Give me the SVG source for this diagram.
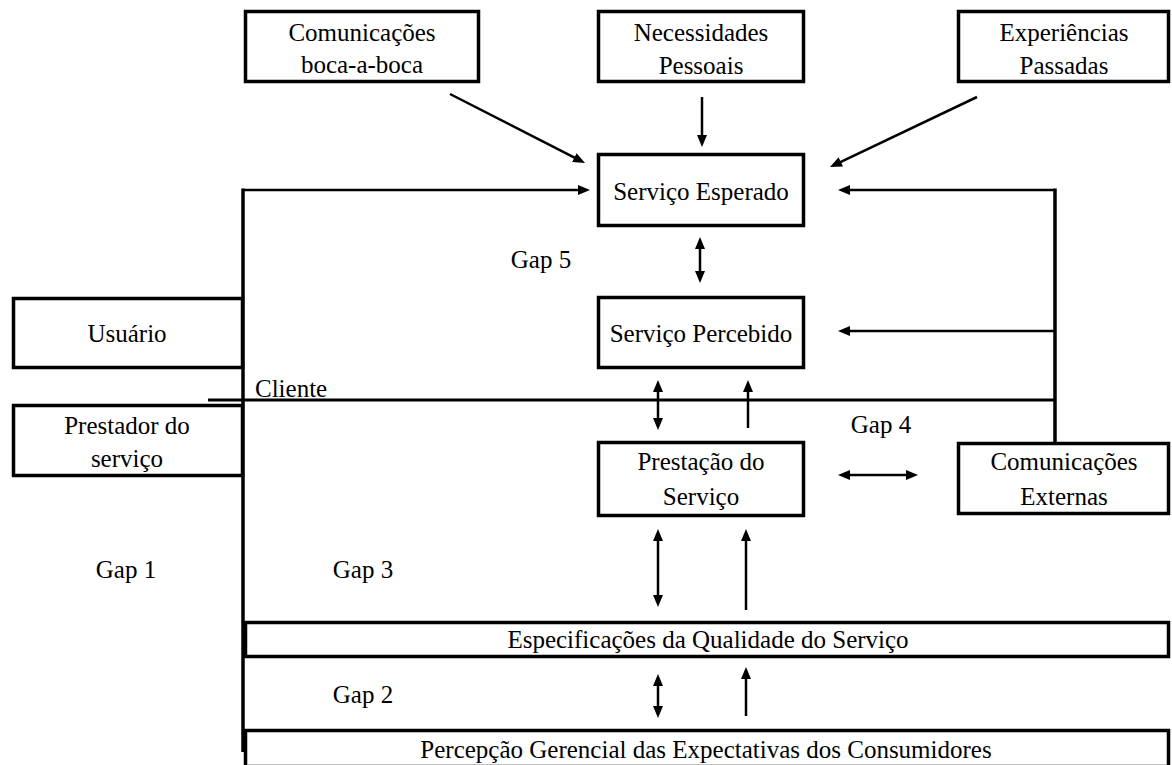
<svg xmlns="http://www.w3.org/2000/svg" width="1172" height="765" viewBox="0 0 1172 765">
<style>
.box{fill:#fff;stroke:#000;stroke-width:3.5}
.t{font-family:"Liberation Serif","Times New Roman",serif;font-size:25px;fill:#000;text-anchor:middle}
.tl{font-family:"Liberation Serif","Times New Roman",serif;font-size:25px;fill:#000}
.c{fill:none;stroke:#000;stroke-width:2.5}
.a{fill:none;stroke:#000;stroke-width:2.5;marker-end:url(#ah)}
.d{fill:none;stroke:#000;stroke-width:2.5;marker-end:url(#ah);marker-start:url(#ah)}
.thick{fill:none;stroke:#000;stroke-width:3.5}
</style>
<defs>
<marker id="ah" markerUnits="userSpaceOnUse" markerWidth="12" markerHeight="10" refX="4" refY="5" orient="auto-start-reverse" viewBox="0 0 12 10">
<path d="M0,0 L12,5 L0,10 z" fill="#000"/>
</marker>
</defs>
<rect width="1172" height="765" fill="#fff"/>
<g id="connectors">
<line class="thick" x1="243" y1="188.5" x2="243" y2="752"/>
<line class="a" x1="243" y1="190" x2="582" y2="190"/>
<line class="thick" x1="1055" y1="188.5" x2="1055" y2="442"/>
<line class="a" x1="1055" y1="190" x2="846" y2="190"/>
<line class="a" x1="1056" y1="331" x2="846" y2="331"/>
<line class="c" x1="208" y1="400" x2="1056" y2="400" style="stroke-width:3"/>
<line class="a" x1="450" y1="94" x2="577.9" y2="159.4"/>
<line class="a" x1="702" y1="97" x2="702" y2="139"/>
<line class="a" x1="977" y1="97" x2="837.2" y2="163.6"/>
<line class="d" x1="700" y1="245" x2="700" y2="275"/>
<line class="d" x1="658" y1="388" x2="658" y2="422"/>
<line class="a" x1="748" y1="428" x2="748" y2="388"/>
<line class="d" x1="846" y1="475" x2="910" y2="475"/>
<line class="d" x1="658" y1="537" x2="658" y2="599"/>
<line class="a" x1="746" y1="610" x2="746" y2="537"/>
<line class="d" x1="658" y1="682" x2="658" y2="710"/>
<line class="a" x1="746" y1="716" x2="746" y2="675"/>
</g>
<g id="boca">
<rect class="box" x="245.5" y="11.5" width="233" height="70"/>
<text class="t" x="362" y="41">Comunicações</text>
<text class="t" x="362" y="73">boca-a-boca</text>
</g>
<g id="necessidades">
<rect class="box" x="598.5" y="11.5" width="205" height="70"/>
<text class="t" x="701" y="41">Necessidades</text>
<text class="t" x="701" y="74">Pessoais</text>
</g>
<g id="experiencias">
<rect class="box" x="958.5" y="11.5" width="210" height="70"/>
<text class="t" x="1064" y="41">Experiências</text>
<text class="t" x="1064" y="74">Passadas</text>
</g>
<g id="esperado">
<rect class="box" x="598.5" y="154.5" width="205" height="71"/>
<text class="t" x="701" y="200">Serviço Esperado</text>
</g>
<g id="percebido">
<rect class="box" x="598.5" y="297.5" width="205" height="70"/>
<text class="t" x="701" y="342">Serviço Percebido</text>
</g>
<g id="prestacao">
<rect class="box" x="598.5" y="442.5" width="205" height="73"/>
<text class="t" x="701" y="470">Prestação do</text>
<text class="t" x="701" y="505">Serviço</text>
</g>
<g id="comext">
<rect class="box" x="958.5" y="443.5" width="210" height="70"/>
<text class="t" x="1064" y="470">Comunicações</text>
<text class="t" x="1064" y="505">Externas</text>
</g>
<g id="usuario">
<rect class="box" x="13.5" y="298.5" width="229" height="69"/>
<text class="t" x="127" y="342">Usuário</text>
</g>
<g id="prestador">
<rect class="box" x="13.5" y="405.5" width="229" height="70"/>
<text class="t" x="127" y="434">Prestador do</text>
<text class="t" x="127" y="467">serviço</text>
</g>
<g id="especificacoes">
<rect class="box" x="245.5" y="622.5" width="923" height="34"/>
<text class="t" x="708" y="648">Especificações da Qualidade do Serviço</text>
</g>
<g id="percepcao">
<rect class="box" x="245.5" y="730.5" width="923" height="36"/>
<text class="t" x="706" y="758">Percepção Gerencial das Expectativas dos Consumidores</text>
</g>
<g id="labels">
<text class="tl" x="255" y="397">Cliente</text>
<text class="t" x="541" y="268">Gap 5</text>
<text class="t" x="881" y="433">Gap 4</text>
<text class="t" x="126" y="578">Gap 1</text>
<text class="t" x="363" y="578">Gap 3</text>
<text class="t" x="363" y="703">Gap 2</text>
</g>
</svg>
